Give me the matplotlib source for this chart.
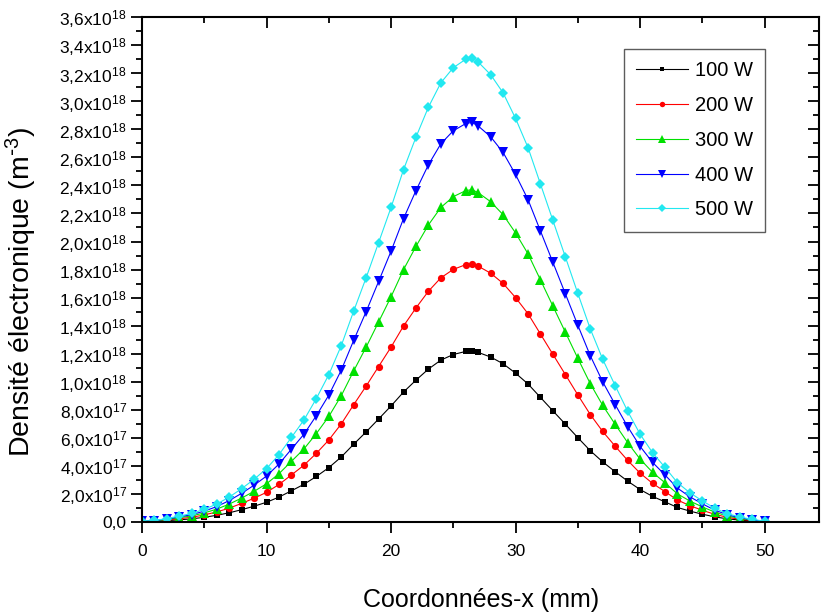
import matplotlib
matplotlib.use("Agg")
import matplotlib.pyplot as plt
from matplotlib.ticker import MultipleLocator, FixedLocator

plt.rcParams["font.family"] = ["Liberation Sans", "DejaVu Sans"]
plt.rcParams["mathtext.default"] = "regular"

# coordonnées x (mm)
x_mm = [0, 1, 2, 3, 4, 5, 6, 7, 8, 9, 10, 11, 12, 13, 14, 15, 16, 17, 18, 19,
        20, 21, 22, 23, 24, 25, 26, 26.5, 27, 28, 29, 30, 31, 32, 33, 34, 35,
        36, 37, 38, 39, 40, 41, 42, 43, 44, 45, 46, 47, 48, 49, 50]

# densité électronique en 1e18 m^-3
ne_100 = [0.002, 0.004, 0.009, 0.015, 0.022, 0.033, 0.047, 0.065, 0.087, 0.112,
          0.140, 0.177, 0.222, 0.268, 0.324, 0.387, 0.463, 0.554, 0.642, 0.734,
          0.827, 0.926, 1.011, 1.090, 1.154, 1.194, 1.216, 1.220, 1.209, 1.176,
          1.128, 1.061, 0.984, 0.888, 0.792, 0.697, 0.601, 0.508, 0.428, 0.358,
          0.291, 0.231, 0.182, 0.143, 0.103, 0.077, 0.055, 0.036, 0.022, 0.013,
          0.007, 0.002]
ne_200 = [0.003, 0.006, 0.013, 0.023, 0.033, 0.050, 0.071, 0.098, 0.132, 0.169,
          0.211, 0.267, 0.335, 0.404, 0.489, 0.584, 0.699, 0.836, 0.969, 1.108,
          1.247, 1.397, 1.526, 1.645, 1.741, 1.801, 1.835, 1.840, 1.824, 1.774,
          1.701, 1.600, 1.485, 1.340, 1.195, 1.051, 0.906, 0.766, 0.645, 0.540,
          0.439, 0.348, 0.275, 0.216, 0.156, 0.116, 0.083, 0.054, 0.033, 0.019,
          0.010, 0.003]
ne_300 = [0.004, 0.007, 0.017, 0.030, 0.043, 0.064, 0.091, 0.127, 0.170, 0.218,
          0.272, 0.344, 0.432, 0.520, 0.630, 0.752, 0.900, 1.077, 1.247, 1.426,
          1.606, 1.799, 1.965, 2.118, 2.243, 2.320, 2.363, 2.370, 2.348, 2.284,
          2.191, 2.061, 1.912, 1.726, 1.539, 1.353, 1.167, 0.986, 0.831, 0.696,
          0.566, 0.448, 0.354, 0.279, 0.200, 0.149, 0.107, 0.070, 0.042, 0.025,
          0.013, 0.004]
ne_400 = [0.004, 0.009, 0.021, 0.036, 0.052, 0.077, 0.109, 0.152, 0.204, 0.262,
          0.327, 0.413, 0.519, 0.625, 0.758, 0.904, 1.082, 1.295, 1.500, 1.715,
          1.931, 2.163, 2.363, 2.547, 2.697, 2.790, 2.841, 2.850, 2.824, 2.747,
          2.635, 2.478, 2.299, 2.075, 1.851, 1.627, 1.403, 1.186, 0.999, 0.837,
          0.680, 0.539, 0.425, 0.335, 0.241, 0.179, 0.129, 0.084, 0.051, 0.030,
          0.015, 0.004]
ne_500 = [0.005, 0.010, 0.024, 0.042, 0.060, 0.090, 0.127, 0.177, 0.237, 0.304,
          0.380, 0.480, 0.603, 0.726, 0.880, 1.050, 1.257, 1.504, 1.742, 1.992,
          2.243, 2.512, 2.744, 2.958, 3.132, 3.240, 3.300, 3.310, 3.280, 3.190,
          3.060, 2.878, 2.670, 2.410, 2.150, 1.890, 1.630, 1.377, 1.160, 0.972,
          0.790, 0.626, 0.494, 0.389, 0.280, 0.208, 0.150, 0.098, 0.059, 0.035,
          0.018, 0.005]

labels = ["100 W", "200 W", "300 W", "400 W", "500 W"]
colors = ["#000000", "#FF0000", "#00E000", "#0000FF", "#22E8F0"]
markers = ["s", "o", "^", "v", "D"]
msizes = [4.6, 5.2, 6.8, 6.8, 5.2]

y_ticks = [0.0, 0.2, 0.4, 0.6, 0.8, 1.0, 1.2, 1.4, 1.6, 1.8, 2.0, 2.2, 2.4,
           2.6, 2.8, 3.0, 3.2, 3.4, 3.6]
y_tick_labels = ["0,0"] + [r"%s,0x10$^{17}$" % v for v in ["2", "4", "6", "8"]] + \
    [r"%s,%sx10$^{18}$" % (s[0], s[2]) for s in
     ["1.0", "1.2", "1.4", "1.6", "1.8", "2.0", "2.2", "2.4", "2.6",
      "2.8", "3.0", "3.2", "3.4", "3.6"]]

fig = plt.figure(figsize=(8.21, 6.14), dpi=100)
ax = fig.add_axes([0.173, 0.150, 0.825, 0.822])

series = [ne_100, ne_200, ne_300, ne_400, ne_500]
for ys, lab, c, m, ms in zip(series, labels, colors, markers, msizes):
    ax.plot(x_mm, ys, color=c, lw=0.8, marker=m, markersize=ms,
            markeredgewidth=0, label=lab)

ax.set_xlim(0, 54.4)
ax.set_ylim(0, 3.6)
ax.xaxis.set_major_locator(MultipleLocator(10))
ax.xaxis.set_minor_locator(MultipleLocator(5))
ax.yaxis.set_major_locator(FixedLocator(y_ticks))
ax.yaxis.set_minor_locator(MultipleLocator(0.1))
ax.set_yticklabels(y_tick_labels)

for sp in ax.spines.values():
    sp.set_linewidth(1.5)

ax.tick_params(axis="both", which="both", width=1.3)
ax.tick_params(axis="x", which="major", direction="out", length=8, pad=8,
               top=True, labelsize=12.5)
ax.tick_params(axis="x", which="minor", direction="out", length=4, top=True)
ax.tick_params(axis="y", which="major", direction="out", length=8, pad=3,
               right=True, labelsize=12.5)
ax.tick_params(axis="y", which="minor", direction="out", length=4, right=True)
# ticks du haut et de droite vers l'intérieur
for t in ax.xaxis.get_major_ticks() + ax.xaxis.get_minor_ticks():
    t.tick2line.set_marker(3)
for t in ax.yaxis.get_major_ticks() + ax.yaxis.get_minor_ticks():
    t.tick2line.set_marker(0)

ax.set_xlabel("Coordonnées-x (mm)", fontsize=18, labelpad=21)
ax.set_ylabel(r"Densité électronique (m$^{\text{-}3}$)", fontsize=20.5)
ax.yaxis.set_label_coords(-0.152, 0.455)

leg = ax.legend(loc="upper right", bbox_to_anchor=(0.920, 0.937),
                borderaxespad=0, fontsize=14.5, frameon=True, fancybox=False,
                edgecolor="#333333", handlelength=2.55, handletextpad=0.35,
                labelspacing=0.78, borderpad=0.62, markerscale=0.75)
leg.get_frame().set_linewidth(1.0)

fig.savefig("out.png", dpi=100)
